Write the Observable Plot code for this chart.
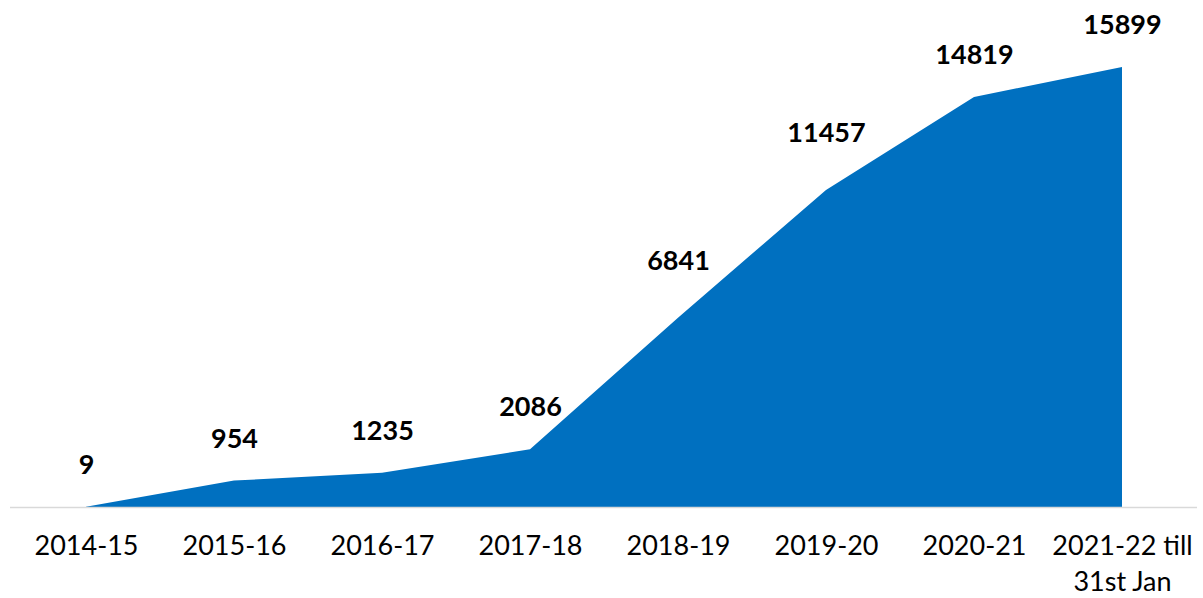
<!DOCTYPE html>
<html>
<head>
<meta charset="utf-8">
<script src="https://cdn.jsdelivr.net/npm/d3@7"></script>
<script src="https://cdn.jsdelivr.net/npm/@observablehq/plot@0.6"></script>
<style>
  html, body { margin: 0; padding: 0; background: #fff; }
</style>
</head>
<body>
<div id="chart"></div>
<script>
const years = ["2014-15", "2015-16", "2016-17", "2017-18", "2018-19", "2019-20", "2020-21", "2021-22 till\n31st Jan"];
const counts = [9, 954, 1235, 2086, 6841, 11457, 14819, 15899];

const data = years.map((y, i) => ({year: y, value: counts[i], steep: i === 4 || i === 5}));

const labelStyle = {x: "year", y: "value", text: d => String(d.value), fontSize: 27, fontWeight: "bold", fill: "#000"};

const chart = Plot.plot({
  width: 1203,
  height: 598,
  marginLeft: 84,
  marginRight: 80,
  marginTop: 67,
  marginBottom: 91,
  style: {fontFamily: "Lato, 'Open Sans', sans-serif", background: "#fff"},
  x: {type: "point", domain: years, padding: 0, label: null},
  y: {domain: [0, 15899], axis: null},
  marks: [
    Plot.areaY(data, {x: "year", y: "value", fill: "#0070C0", curve: "linear"}),
    Plot.ruleY([0], {stroke: "#d9d9d9", strokeWidth: 1.5, insetLeft: -74, insetRight: -74}),
    Plot.axisX({tickSize: 0, tickPadding: 23, fontSize: 27, lineHeight: 1.3, fill: "#000", label: null}),
    Plot.text(data.filter(d => !d.steep), {...labelStyle, dy: -42}),
    Plot.text(data.filter(d => d.steep), {...labelStyle, dy: -57})
  ]
});
document.getElementById("chart").appendChild(chart);
</script>
</body>
</html>
